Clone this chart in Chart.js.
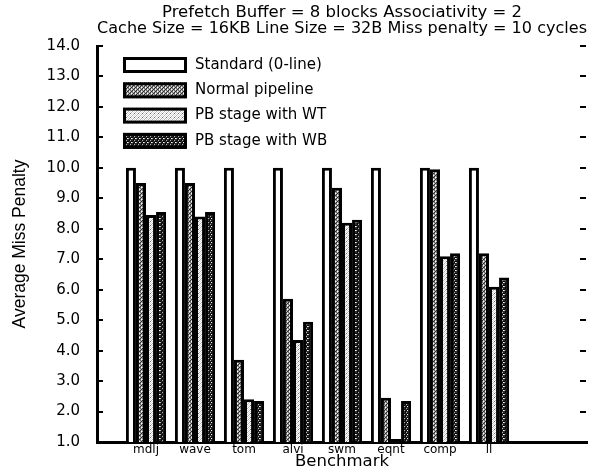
<!DOCTYPE html>
<html>
<head>
<meta charset="utf-8">
<script src="https://cdn.jsdelivr.net/npm/chart.js@4/dist/chart.umd.min.js"></script>
<style>
  html, body { margin: 0; padding: 0; background: #fff; }
  #wrap { width: 610px; height: 470px; position: relative; }
</style>
</head>
<body>
<div id="wrap"><canvas id="c" width="610" height="470"></canvas></div>
<script>
// Benchmarks and average miss penalty (cycles) per configuration
const benchmarks = ['mdlj', 'wave', 'tom', 'alvi', 'swm', 'eqnt', 'comp', 'll'];
const standard   = [10.0, 10.0, 10.0, 10.0, 10.0, 10.0, 10.0, 10.0];
const normalPipe = [9.5, 9.5, 3.7, 5.7, 9.35, 2.45, 9.95, 7.2];
const pbStageWT  = [8.45, 8.4, 2.4, 4.35, 8.2, 1.1, 7.1, 6.1];
const pbStageWB  = [8.55, 8.55, 2.35, 4.95, 8.3, 2.35, 7.2, 6.4];
const seriesNames = ['Standard (0-line)', 'Normal pipeline', 'PB stage with WT', 'PB stage with WB'];
const titleLines = ['Prefetch Buffer = 8 blocks Associativity = 2',
                    'Cache Size = 16KB Line Size = 32B Miss penalty = 10 cycles'];

// Small stipple tiles used as bar fills
function stipple(rows) {
  const n = rows.length, m = rows[0].length;
  const cv = document.createElement('canvas');
  cv.width = m; cv.height = n;
  const g = cv.getContext('2d');
  for (let r = 0; r < n; r++) for (let c = 0; c < m; c++) {
    g.fillStyle = rows[r][c]; g.fillRect(c, r, 1, 1);
  }
  return g.createPattern(cv, 'repeat');
}
const K = '#000000', D = '#2a2a2a', M = '#6e6e6e', L = '#b4b4b4', W = '#ffffff', P = '#dcdcdc';
const fillNormal = stipple([[M, L, D, L], [L, D, M, W], [D, L, M, L], [M, W, L, D]]);
const fillWT     = stipple([[W, P, W, L], [P, W, M, W], [W, L, W, P], [L, W, P, W]]);
const fillWB     = stipple([[D, K, L, D], [K, D, D, K], [L, D, K, W], [D, K, D, D]]);

const toPoints = arr => arr.map((v, i) => ({ x: i + 1, y: v }));
const FONT = "'DejaVu Sans', 'Liberation Sans', sans-serif";

// Inner tick marks on both sides of the plot
const innerTicks = {
  id: 'innerTicks',
  afterDraw(chart) {
    const { ctx, chartArea: a, scales: { y } } = chart;
    ctx.save();
    ctx.strokeStyle = '#000';
    ctx.lineWidth = 2;
    y.ticks.forEach(t => {
      const py = Math.round(y.getPixelForValue(t.value));
      ctx.beginPath();
      ctx.moveTo(a.left, py); ctx.lineTo(a.left + 6, py);
      ctx.moveTo(a.right - 7, py); ctx.lineTo(a.right - 1, py);
      ctx.stroke();
    });
    ctx.restore();
  }
};

// Legend drawn inside the plot, top-left, from the dataset styles
const insideLegend = {
  id: 'insideLegend',
  afterDraw(chart) {
    const { ctx, chartArea: a } = chart;
    ctx.save();
    chart.data.datasets.forEach((ds, i) => {
      const bx = a.left + 26, by = a.top + 11 + i * 25.3, bw = 64, bh = 16;
      ctx.fillStyle = ds.backgroundColor;
      ctx.fillRect(bx, by, bw, bh);
      ctx.strokeStyle = '#000';
      ctx.lineWidth = 3;
      ctx.strokeRect(bx + 1.5, by + 1.5, bw - 3, bh - 3);
      ctx.fillStyle = '#000';
      ctx.font = '15px ' + FONT;
      ctx.textBaseline = 'middle';
      ctx.fillText(ds.label, bx + bw + 8, by + bh / 2);
    });
    ctx.restore();
  }
};

const common = { borderColor: '#000', borderWidth: 3, borderSkipped: 'bottom' };

new Chart(document.getElementById('c'), {
  type: 'bar',
  data: {
    datasets: [
      { label: seriesNames[0], data: toPoints(standard),   backgroundColor: '#ffffff', ...common },
      { label: seriesNames[1], data: toPoints(normalPipe), backgroundColor: fillNormal, ...common },
      { label: seriesNames[2], data: toPoints(pbStageWT),  backgroundColor: fillWT, ...common },
      { label: seriesNames[3], data: toPoints(pbStageWB),  backgroundColor: fillWB, ...common }
    ]
  },
  options: {
    responsive: false,
    animation: false,
    layout: { padding: { left: 0, right: 23, top: 0, bottom: 0 } },
    datasets: { bar: { categoryPercentage: 0.82, barPercentage: 1.0 } },
    plugins: {
      legend: { display: false },
      tooltip: { enabled: false },
      title: {
        display: true,
        fullSize: false,
        text: titleLines,
        color: '#000',
        font: { family: FONT, size: 16.5, weight: 'normal', lineHeight: 1.0 },
        padding: { top: 4, bottom: 9 }
      }
    },
    scales: {
      x: {
        type: 'linear',
        offset: false,
        min: 0, max: 10,
        afterFit: s => { s.height = 28; },
        afterBuildTicks: s => { s.ticks = benchmarks.map((b, i) => ({ value: i + 1 })); },
        ticks: {
          autoSkip: false, maxRotation: 0, padding: 1,
          color: '#000',
          font: { family: FONT, size: 12 },
          callback: v => benchmarks[v - 1] ?? ''
        },
        grid: { display: false, drawTicks: false },
        border: { display: true, color: '#000', width: 3 },
        title: {
          display: true, text: 'Benchmark', color: '#000',
          font: { family: FONT, size: 16.5, lineHeight: 1.0 },
          padding: { top: 0, bottom: 0 }
        }
      },
      y: {
        min: 1, max: 14,
        afterFit: s => { s.width = 97; },
        ticks: {
          stepSize: 1, padding: 17, color: '#000',
          font: { family: FONT, size: 15 },
          callback: v => Number(v).toFixed(1)
        },
        grid: { display: false, drawTicks: false },
        border: { display: true, color: '#000', width: 3 },
        title: {
          display: true, text: 'Average Miss Penalty', color: '#000',
          font: { family: "'Liberation Sans', sans-serif", size: 17.5, lineHeight: 1.2 },
          padding: { top: 10, bottom: 0 }
        }
      }
    }
  },
  plugins: [innerTicks, insideLegend]
});
</script>
</body>
</html>
